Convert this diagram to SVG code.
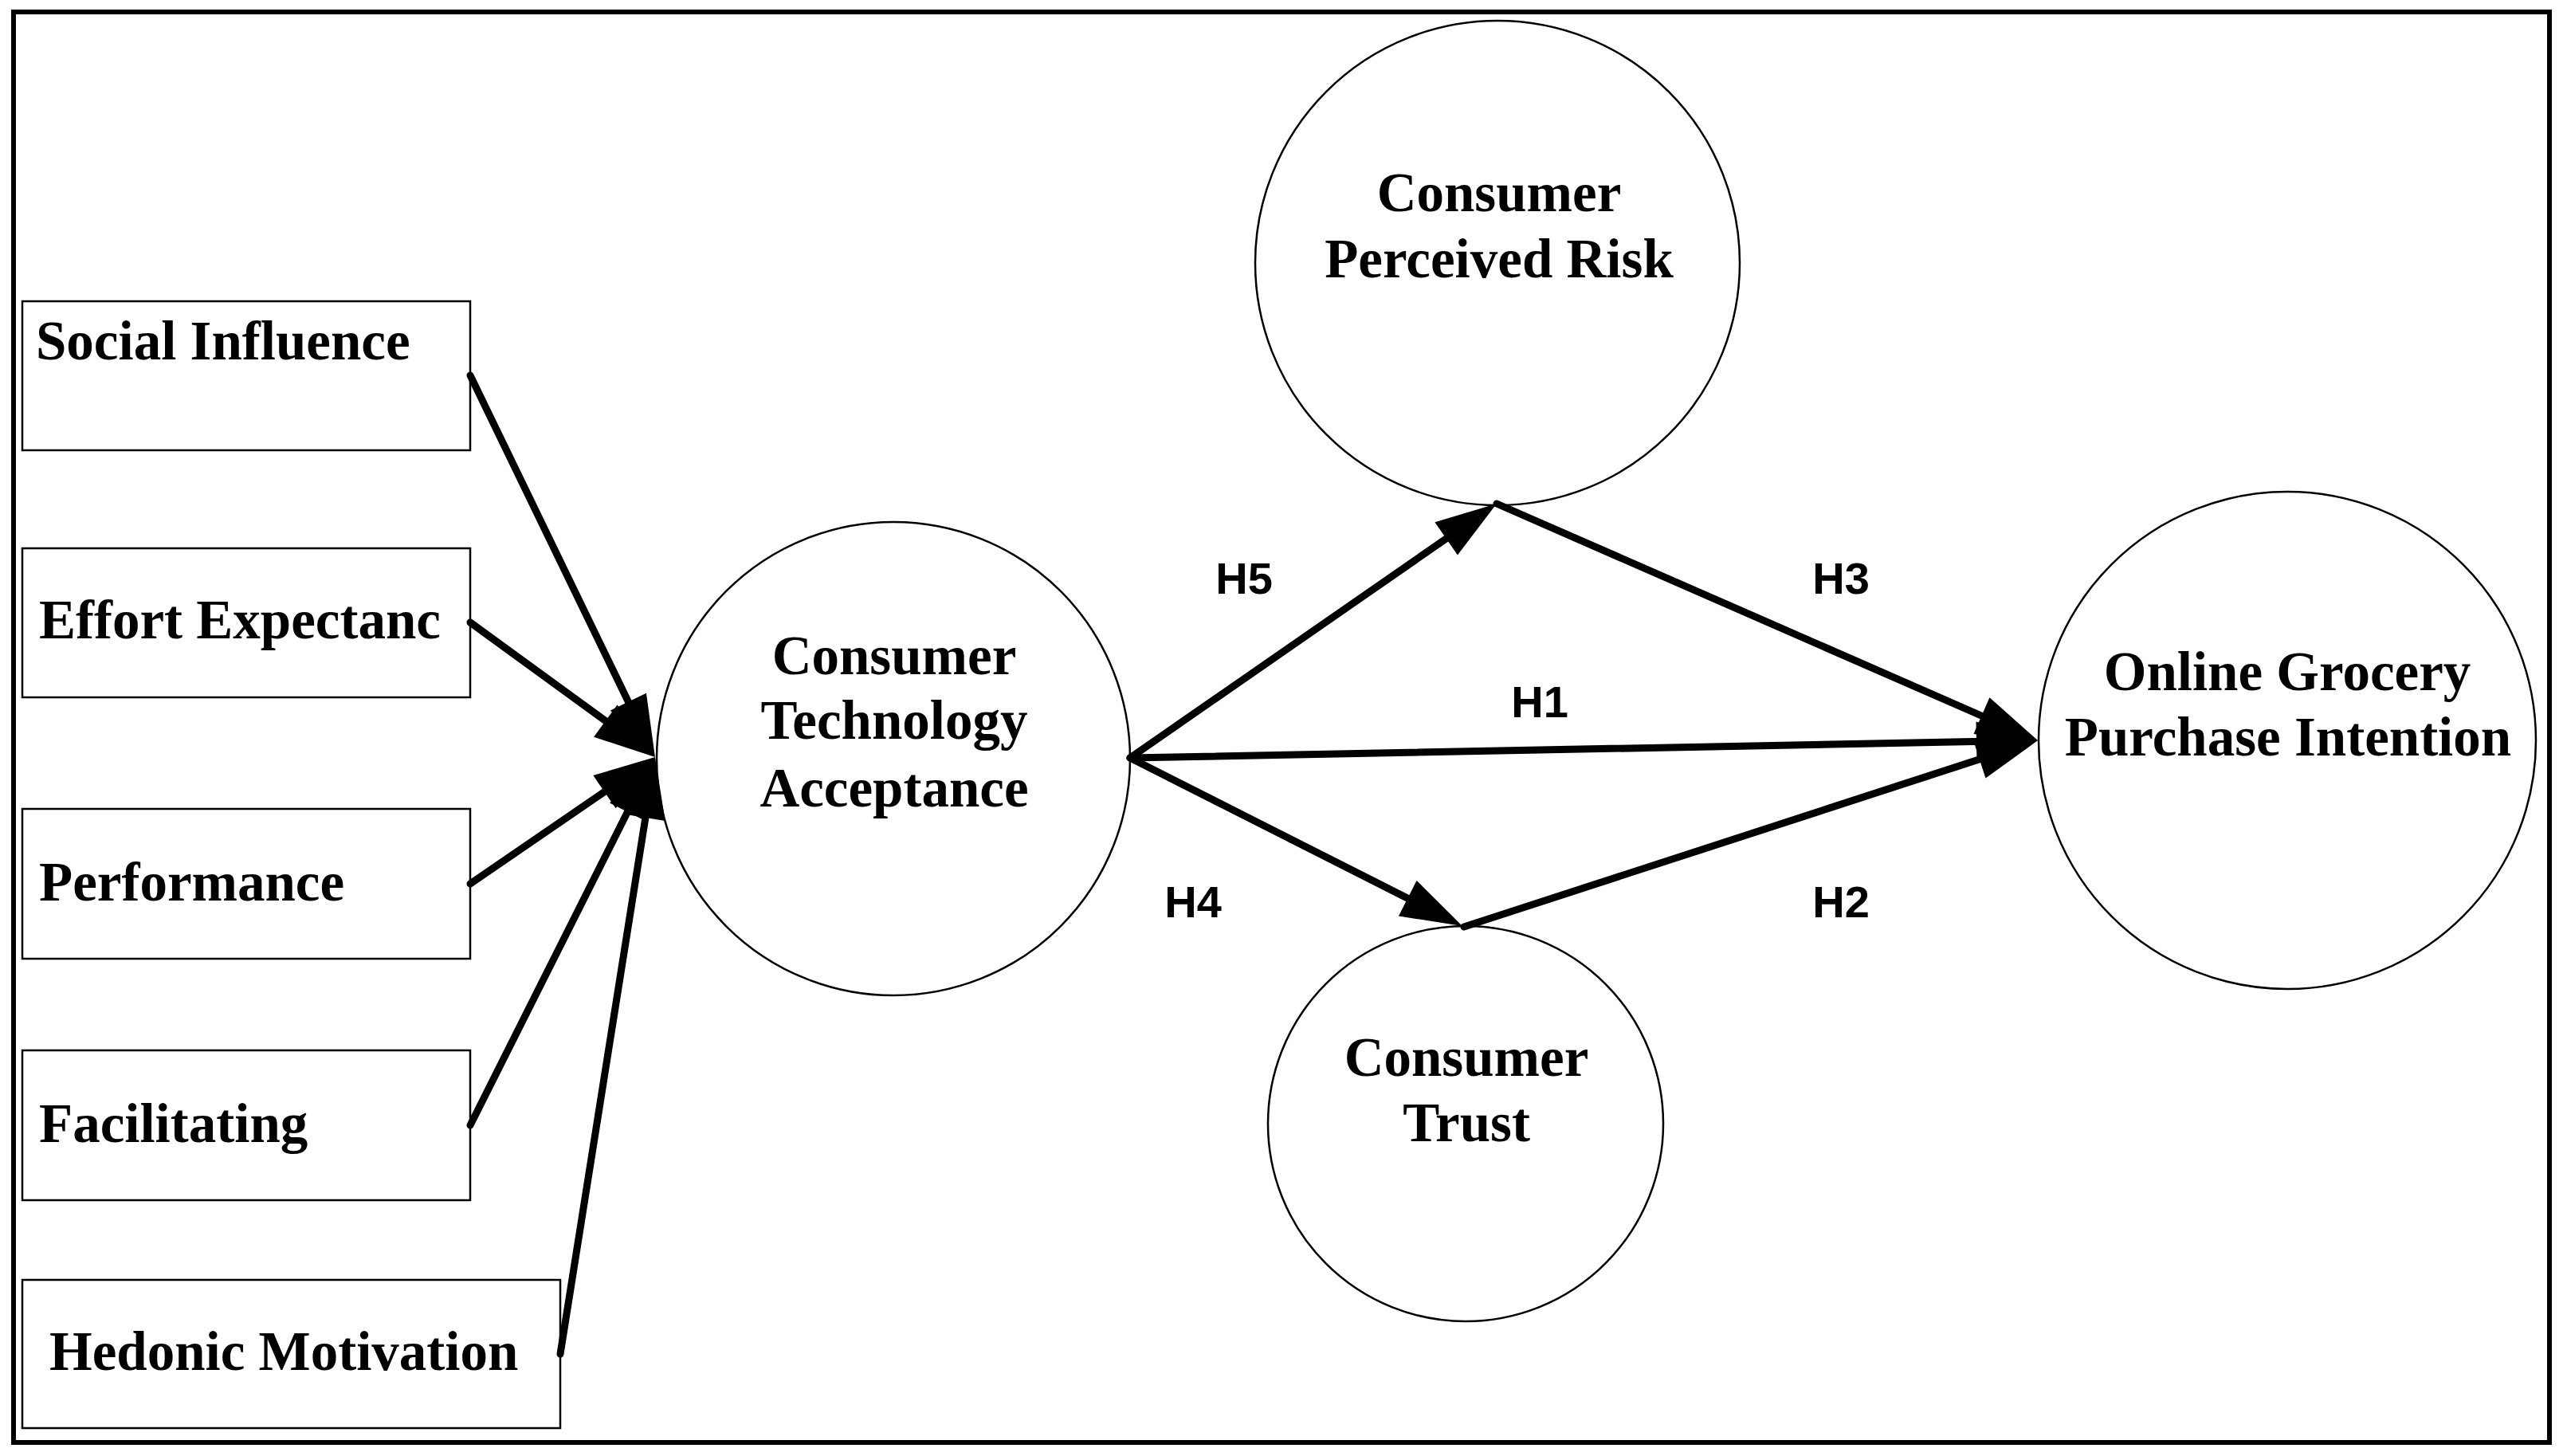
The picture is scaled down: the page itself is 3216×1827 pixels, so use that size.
<svg xmlns="http://www.w3.org/2000/svg" width="3216" height="1827" viewBox="0 0 3216 1827">
<style>
.box{fill:#fff;stroke:#000;stroke-width:2.5}
.node{fill:#fff;stroke:#000;stroke-width:2.5}
.t{font-family:"Liberation Serif","Times New Roman",serif;font-weight:bold;font-size:69px;fill:#000}
.c{text-anchor:middle}
.h{font-family:"Liberation Sans",Arial,sans-serif;font-weight:bold;font-size:56px;fill:#000;text-anchor:middle}
.e{fill:none;stroke:#000;stroke-width:9;stroke-linecap:round;marker-end:url(#ah)}
</style>
<defs>
<marker id="ah" markerUnits="userSpaceOnUse" viewBox="0 -26 80 52" markerWidth="80" markerHeight="52" refX="47" refY="0" orient="auto" overflow="visible">
<path d="M0,-25 L77,0 L0,25 Z" fill="#000"/>
</marker>
</defs>
<rect x="0" y="0" width="3216" height="1827" fill="#fff"/>
<rect id="frame" x="17" y="15" width="3182" height="1795" fill="none" stroke="#000" stroke-width="6"/>

<g id="n-social">
<rect class="box" x="28" y="378" width="562" height="187"/>
<text class="t" x="45" y="451">Social Influence</text>
</g>
<g id="n-effort">
<rect class="box" x="28" y="688" width="562" height="187"/>
<text class="t" x="49" y="801">Effort Expectanc</text>
</g>
<g id="n-performance">
<rect class="box" x="28" y="1015" width="562" height="188"/>
<text class="t" x="49" y="1130">Performance</text>
</g>
<g id="n-facilitating">
<rect class="box" x="28" y="1318" width="562" height="188"/>
<text class="t" x="49" y="1433">Facilitating</text>
</g>
<g id="n-hedonic">
<rect class="box" x="28" y="1606" width="675" height="186"/>
<text class="t" x="62" y="1719">Hedonic Motivation</text>
</g>

<g id="n-cta">
<circle class="node" cx="1121" cy="952" r="297"/>
<text class="t c" x="1122" y="846">Consumer</text>
<text class="t c" x="1122" y="927">Technology</text>
<text class="t c" x="1122" y="1012">Acceptance</text>
</g>
<g id="n-cpr">
<circle class="node" cx="1879" cy="330" r="304"/>
<text class="t c" x="1881" y="265">Consumer</text>
<text class="t c" x="1881" y="348">Perceived Risk</text>
</g>
<g id="n-ct">
<circle class="node" cx="1839" cy="1410" r="248"/>
<text class="t c" x="1840" y="1350">Consumer</text>
<text class="t c" x="1840" y="1432">Trust</text>
</g>
<g id="n-ogpi">
<circle class="node" cx="2870" cy="929" r="312"/>
<text class="t c" x="2870" y="866">Online Grocery</text>
<text class="t c" x="2871" y="948">Purchase Intention</text>
</g>

<g id="connectors">
<line class="e" x1="590" y1="471" x2="808.9" y2="923"/>
<line class="e" x1="590" y1="781" x2="797.8" y2="932.3"/>
<line class="e" x1="590" y1="1109" x2="797.2" y2="967"/>
<line class="e" x1="590" y1="1412" x2="808.5" y2="976.8"/>
<line class="e" x1="703" y1="1699" x2="817.3" y2="979.6"/>
<line class="e" x1="1418" y1="951" x2="1853.3" y2="649.1"/>
<line class="e" x1="1418" y1="951" x2="1808.2" y2="1148.4"/>
<line class="e" x1="1418" y1="951" x2="2527" y2="929.6"/>
<line class="e" x1="1878" y1="632" x2="2529.5" y2="917"/>
<line class="e" x1="1837" y1="1163" x2="2528.5" y2="938.3"/>
</g>

<g id="labels">
<text class="h" x="1561" y="745">H5</text>
<text class="h" x="2310" y="745">H3</text>
<text class="h" x="1932" y="900">H1</text>
<text class="h" x="1497" y="1151">H4</text>
<text class="h" x="2310" y="1151">H2</text>
</g>
</svg>
